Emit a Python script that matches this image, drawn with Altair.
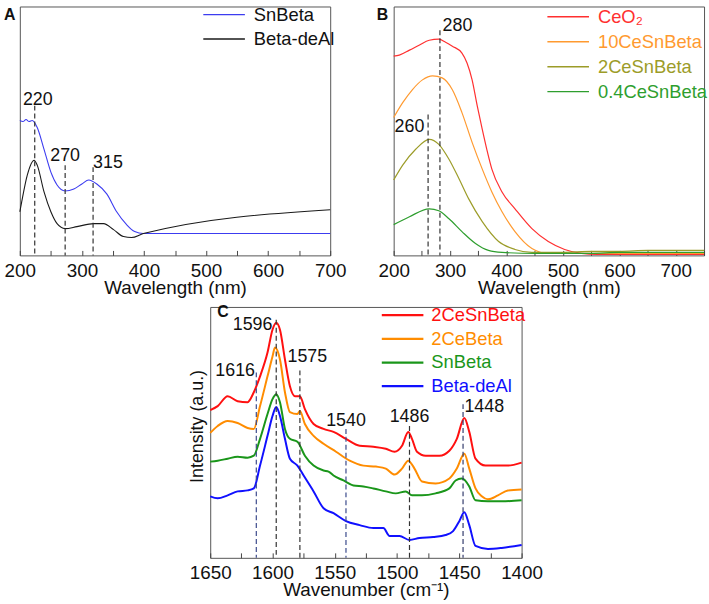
import altair as alt
import pandas as pd

FONT = "Liberation Sans"

# ---------------- Panel A data ----------------
a_series = ["SnBeta", "Beta-deAl"]
a_colors = ["#3c3cf0", "#1a1a1a"]
a_sn_x = [200, 205, 210, 215, 220, 228, 239, 250, 260, 273, 287, 300, 311, 324, 340, 356, 372, 385, 399, 450, 500, 550, 600, 650, 700]
a_sn_v = [136, 135, 137, 135, 136, 129, 107, 84, 71, 65, 67, 72, 76, 72, 62, 44, 31, 24, 22, 22, 22, 22, 22, 22, 22]
a_de_x = [200, 203, 212, 223, 228, 239, 250, 260, 273, 292, 319, 335, 351, 367, 380, 399, 700]
a_de_v = [44, 54, 81, 96, 91, 64, 44, 32, 27, 29, 32, 32, 26, 19, 18, 22, 46]
a_peak_x = [224, 273, 318]
a_peak_top = [151, 91, 89]
a_peak_col = ["#333333", "#333333", "#333333"]
a_lab_text = ["220", "270", "315"]
a_lab_x = [229, 273, 342]
a_lab_v = [157, 100, 93]

# ---------------- Panel B data ----------------
b_series = ["CeO₂", "10CeSnBeta", "2CeSnBeta", "0.4CeSnBeta"]
b_colors = ["#ff3030", "#ff9a30", "#9c9c28", "#2e9e2e"]
b_ce_x = [200, 210, 228, 245, 263, 280, 292, 304, 321, 330, 339, 348, 357, 365, 374, 392, 415, 445, 474, 503, 533, 560, 600, 650, 700, 750]
b_ce_v = [201, 202, 207, 212, 217, 218, 215, 211, 204, 194, 177, 151, 127, 107, 87, 64, 47, 27, 14, 6, 2, 1, 1, 1, 1, 1]
b_10_x = [200, 216, 233, 251, 269, 286, 304, 321, 339, 357, 374, 392, 415, 445, 474, 500, 550, 600, 650, 700, 750]
b_10_v = [139, 154, 167, 177, 181, 179, 167, 144, 114, 87, 64, 44, 24, 7, 2, 2, 2, 2, 2, 2, 2]
b_2_x = [200, 216, 239, 263, 280, 298, 316, 333, 357, 386, 415, 445, 500, 550, 600, 650, 700, 750]
b_2_v = [76, 91, 107, 117, 112, 97, 77, 57, 34, 14, 6, 3, 3, 4, 4, 5, 5, 5]
b_04_x = [200, 228, 263, 280, 298, 321, 345, 368, 392, 450, 500, 550, 600, 650, 700, 750]
b_04_v = [31, 39, 47, 45, 37, 24, 12, 5, 3, 2, 2, 2, 3, 3, 3, 3]
b_peak_x = [261, 282]
b_peak_top = [142, 227]
b_peak_col = ["#333333", "#333333"]
b_lab_text = ["260", "280"]
b_lab_x = [228, 313]
b_lab_v = [129, 231]

# ---------------- Panel C data ----------------
c_series = ["2CeSnBeta", "2CeBeta", "SnBeta", "Beta-deAl"]
c_colors = ["#ff1010", "#ff8c00", "#1a961a", "#1010ff"]
c_r_x = [1650, 1644, 1636, 1628, 1620, 1615, 1610, 1604, 1600, 1597, 1594, 1590, 1586, 1582, 1578, 1574, 1567, 1559, 1551, 1541, 1530, 1519, 1509, 1502, 1496, 1491, 1488, 1484, 1477, 1466, 1458, 1452, 1446, 1442, 1437, 1429, 1419, 1411, 1400]
c_r_v = [149, 153, 163, 158, 157, 167, 183, 207, 230, 237, 230, 200, 173, 163, 163, 150, 135, 130, 127, 120, 113, 112, 110, 107, 113, 127, 120, 107, 103, 103, 108, 120, 141, 127, 100, 93, 93, 93, 96]
c_o_x = [1650, 1644, 1636, 1628, 1620, 1615, 1610, 1604, 1600, 1598, 1594, 1590, 1586, 1580, 1578, 1574, 1567, 1559, 1549, 1538, 1527, 1517, 1509, 1502, 1496, 1491, 1486, 1480, 1469, 1458, 1452, 1446, 1442, 1437, 1432, 1427, 1419, 1411, 1400]
c_o_v = [126, 133, 138, 136, 131, 130, 153, 183, 203, 212, 200, 167, 147, 145, 148, 135, 123, 115, 107, 98, 93, 92, 90, 84, 90, 98, 90, 77, 75, 80, 90, 105, 90, 70, 62, 59, 63, 68, 69]
c_g_x = [1650, 1644, 1636, 1628, 1620, 1615, 1610, 1604, 1600, 1597, 1594, 1590, 1586, 1580, 1574, 1567, 1559, 1555, 1551, 1543, 1535, 1527, 1519, 1509, 1501, 1493, 1488, 1480, 1469, 1458, 1453, 1448, 1442, 1437, 1427, 1416, 1400]
c_g_v = [97, 98, 100, 102, 101, 103, 120, 145, 160, 165, 157, 130, 120, 117, 103, 93, 88, 87, 83, 78, 73, 72, 70, 67, 65, 67, 63, 63, 65, 70, 78, 80, 72, 58, 57, 57, 58]
c_b_x = [1650, 1644, 1636, 1628, 1620, 1615, 1610, 1604, 1600, 1597, 1594, 1590, 1586, 1580, 1575, 1567, 1559, 1551, 1541, 1530, 1519, 1511, 1506, 1498, 1490, 1482, 1471, 1461, 1455, 1450, 1446, 1442, 1437, 1427, 1416, 1400]
c_b_v = [62, 60, 63, 67, 68, 70, 93, 123, 143, 152, 143, 120, 100, 93, 83, 67, 50, 45, 37, 33, 30, 30, 22, 22, 18, 20, 21, 23, 27, 37, 46, 33, 12, 9, 10, 13]
c_peak_x = [1613, 1597, 1578, 1541, 1490, 1447]
c_peak_top = [187, 240, 189, 130, 133, 155]
c_peak_col = ["#3b4a8c", "#333333", "#333333", "#3b4a8c", "#333333", "#333b6c"]
c_lab_text = ["1616", "1596", "1575", "1540", "1486", "1448"]
c_lab_x = [1630, 1616, 1572, 1541, 1490, 1430]
c_lab_v = [188, 235, 202, 138, 142, 152]


def long_df(series, xs, vs):
    rows = []
    for s, xx, vv in zip(series, xs, vs):
        for a, b in zip(xx, vv):
            rows.append({"series": s, "x": a, "v": b})
    return pd.DataFrame(rows)


def color_expr(series, colors):
    e = "'#111111'"
    for s, c in reversed(list(zip(series, colors))):
        e = f"datum.value == '{s}' ? '{c}' : ({e})"
    return e


def panel(df, series, colors, xdom, xrev, ticks, mod, xtitle, ydom, yaxis,
          leg_x, leg_y, leg_off, leg_rowpad, colored_labels, sw,
          peak_x, peak_top, peak_col, lab_text, lab_x, lab_v,
          letter, let_x, let_y, w, h):
    xenc = alt.X(
        "x:Q",
        scale=alt.Scale(domain=xdom, nice=False, zero=False, reverse=xrev),
        axis=alt.Axis(
            values=ticks, format="d",
            labelExpr=f"datum.value % {mod} == 0 ? datum.label : ''",
            offset=-5, tickSize=5, domain=False, grid=False,
            labelPadding=6, titlePadding=-2, labelFontSize=19, titleFontSize=19,
            titleFontWeight="normal", labelColor="#111111", titleColor="#111111",
            tickColor="#444444", labelOverlap=False, labelFlush=False,
        ),
        title=xtitle,
    )
    yenc = alt.Y("v:Q", scale=alt.Scale(domain=ydom, nice=False, zero=False), axis=yaxis)
    lab_col = {"expr": color_expr(series, colors)} if colored_labels else "#111111"
    legend = alt.Legend(
        orient="none", legendX=leg_x, legendY=leg_y, title=None,
        symbolType="M-4,0H4", symbolSize=110, symbolStrokeWidth=sw + 0.3,
        labelFontSize=18.5, labelOffset=leg_off, rowPadding=leg_rowpad,
        padding=0, labelColor=lab_col, labelLimit=300,
    )
    lines = alt.Chart(df).mark_line(strokeWidth=sw, interpolate="monotone").encode(
        x=xenc, y=yenc,
        color=alt.Color("series:N", scale=alt.Scale(domain=series, range=colors),
                        legend=legend, sort=series),
    )
    rdf = pd.DataFrame({"x": peak_x, "v": peak_top, "c": peak_col})
    rules = alt.Chart(rdf).mark_rule(strokeDash=[5, 3], strokeWidth=1.2).encode(
        x=xenc, y=yenc, y2=alt.datum(0), stroke=alt.Stroke("c:N", scale=None)
    )
    ldf = pd.DataFrame({"x": lab_x, "v": lab_v, "t": lab_text})
    labels = alt.Chart(ldf).mark_text(fontSize=18, color="#111111", baseline="middle").encode(
        x=xenc, y=yenc, text="t:N"
    )
    let = alt.Chart(pd.DataFrame({"t": [letter]})).mark_text(
        fontSize=16, fontWeight="bold", align="left", baseline="top", color="#111111"
    ).encode(x=alt.value(let_x), y=alt.value(let_y), text="t:N")
    return alt.layer(lines, rules, labels, let).properties(width=w, height=h)


dfA = long_df(a_series, [a_sn_x, a_de_x], [a_sn_v, a_de_v])
dfB = long_df(b_series, [b_ce_x, b_10_x, b_2_x, b_04_x], [b_ce_v, b_10_v, b_2_v, b_04_v])
dfC = long_df(c_series, [c_r_x, c_o_x, c_g_x, c_b_x], [c_r_v, c_o_v, c_g_v, c_b_v])

chartA = panel(dfA, a_series, a_colors, [200, 700], False, list(range(200, 701, 50)), 100,
               "Wavelength (nm)", [0, 251], None,
               196.75, -1, 20.75, 5.5, False, 1.1,
               a_peak_x, a_peak_top, a_peak_col, a_lab_text, a_lab_x, a_lab_v,
               "A", -16, 1, 313, 251)
chartB = panel(dfB, b_series, b_colors, [200, 750], False, list(range(200, 751, 50)), 100,
               "Wavelength (nm)", [0, 251], None,
               166.75, 1, 20.75, 6.2, True, 1.2,
               b_peak_x, b_peak_top, b_peak_col, b_lab_text, b_lab_x, b_lab_v,
               "B", -17, 1, 313, 251)
yaxisC = alt.Axis(labels=False, ticks=False, domain=False, grid=False,
                  title="Intensity (a.u.)", titleFontSize=18, titlePadding=4,
                  titleY=120, titleFontWeight="normal", titleColor="#111111")
chartC = panel(dfC, c_series, c_colors, [1400, 1650], True, list(range(1400, 1651, 25)), 50,
               "Wavenumber (cm⁻¹)", [0, 253], yaxisC,
               184.75, -1, 19.75, 4.9, True, 2,
               c_peak_x, c_peak_top, c_peak_col, c_lab_text, c_lab_x, c_lab_v,
               "C", 7, -3, 314, 253)

spacer = alt.Chart(pd.DataFrame({"s": [0]})).mark_point(opacity=0).encode(
    x=alt.value(0), y=alt.value(0)
).properties(width=168, height=1, view=alt.ViewBackground(stroke="transparent"))

top = alt.hconcat(chartA, chartB, spacing=29).resolve_scale(color="independent").resolve_legend(color="independent")
bottom = alt.hconcat(spacer, chartC, spacing=0).resolve_scale(color="independent")
chart = alt.vconcat(top, bottom, spacing=5).resolve_scale(color="independent").resolve_legend(color="independent").properties(
    padding={"left": 3, "top": 2, "right": 0, "bottom": 0}
).configure(font=FONT).configure_view(stroke="#555555", strokeWidth=1)

chart.save("out.html", embed_options={"renderer": "svg", "actions": False})
